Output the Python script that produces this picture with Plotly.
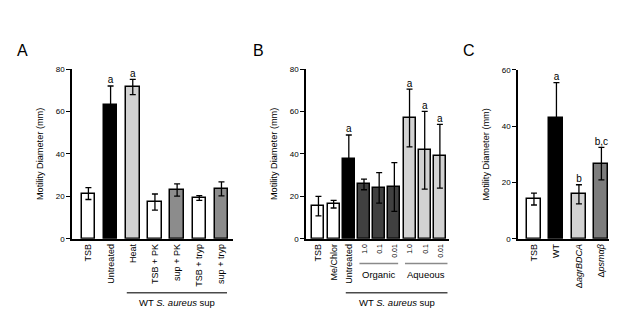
import plotly.graph_objects as go

W, H = 617, 312
OFF = 8  # page body margin in the browser

# ---------------- data ----------------
a_labels = ["TSB", "Untreated", "Heat", "TSB + PK", "sup + PK", "TSB + tryp", "sup + tryp"]
a_means = [21.3, 63.0, 71.5, 17.3, 23.0, 19.2, 23.5]
a_err = [2.8, 9.0, 3.6, 3.8, 2.9, 1.1, 3.3]
a_sig = ["", "a", "a", "", "", "", ""]

b_labels = ["TSB", "Me/Chlor", "Untreated", "1.0", "0.1", "0.01", "1.0", "0.1", "0.01"]
b_means = [15.4, 16.3, 37.7, 25.6, 24.0, 24.4, 56.9, 41.7, 38.9]
b_err = [4.6, 1.8, 11.2, 2.5, 7.2, 11.5, 13.6, 18.3, 15.0]
b_sig = ["", "", "a", "", "", "", "a", "a", "a"]

c_labels = ["TSB", "WT", "Δ<i>agrBDCA</i>", "Δ<i>psmαβ</i>"]
c_means = [14.1, 42.8, 15.8, 26.7]
c_err = [2.1, 12.7, 3.4, 5.8]
c_sig = ["", "a", "b", "b,c"]

# ---------------- styles ----------------
WHITE, BLACK, LIGHT, MID, DARK, CMID = "#ffffff", "#000000", "#d2d2d2", "#8c8c8c", "#404040", "#7d7d7d"
a_colors = [WHITE, BLACK, LIGHT, WHITE, MID, WHITE, MID]
b_colors = [WHITE, WHITE, BLACK, DARK, DARK, DARK, LIGHT, LIGHT, LIGHT]
c_colors = [WHITE, BLACK, LIGHT, CMID]

FONT = "Arial, Liberation Sans, sans-serif"

def px(x):
    return (x - OFF) / W

def py(y):
    return 1 - (y - OFF) / H

fig = go.Figure()

def add_panel(labels, means, errs, sig, colors, xa, ya, width):
    xs = list(range(len(labels)))
    fig.add_trace(go.Bar(
        x=xs, y=means, width=width,
        marker=dict(color=colors, line=dict(color="black", width=1.5)),
        error_y=dict(type="data", array=errs, visible=True, color="black",
                     thickness=1.3, width=3),
        xaxis=xa, yaxis=ya, showlegend=False, hoverinfo="skip"))
    fig.add_trace(go.Scatter(
        x=xs, y=[m + e for m, e in zip(means, errs)], text=sig,
        mode="text", textposition="top center",
        textfont=dict(family=FONT, size=10, color="black"),
        xaxis=xa, yaxis=ya, showlegend=False, hoverinfo="skip", cliponaxis=False))

add_panel(a_labels, a_means, a_err, a_sig, a_colors, "x", "y", 0.61)
add_panel(b_labels, b_means, b_err, b_sig, b_colors, "x2", "y2", 0.79)
add_panel(c_labels, c_means, c_err, c_sig, c_colors, "x3", "y3", 0.62)

ydom = [py(241.5), py(66.7)]
ydomC = [py(241.5), py(67.7)]

def xaxis(dom, rng, labels, size=9):
    return dict(domain=dom, range=rng, tickmode="array",
                tickvals=list(range(len(labels))), ticktext=labels,
                tickangle=-90, showline=True, linecolor="black", linewidth=1.5,
                ticks="", showgrid=False, zeroline=False,
                tickfont=dict(family=FONT, size=size, color="black"))

def yaxis(dom, rng, dtick, xa, standoff):
    return dict(domain=dom, range=rng, dtick=dtick, anchor=xa,
                showline=True, linecolor="black", linewidth=1.5,
                ticks="outside", ticklen=4, tickwidth=1.2, tickcolor="black",
                showgrid=False, zeroline=False,
                tickfont=dict(family=FONT, size=8, color="black"),
                title=dict(text="Motility Diameter (mm)", standoff=standoff,
                           font=dict(family=FONT, size=9.2, color="black")))

b_ticktext = [t if i < 3 else "<span style='font-size:7px'>%s</span>" % t
              for i, t in enumerate(b_labels)]

fig.update_layout(
    width=W, height=H, margin=dict(l=0, r=0, t=0, b=0),
    paper_bgcolor="white", plot_bgcolor="white", bargap=0,
    xaxis=xaxis([px(72), px(233)], [-0.74, 6.52], a_labels),
    yaxis=yaxis(ydom, [0, 80], 20, "x", 11),
    xaxis2=xaxis([px(306), px(449)], [-0.82, 8.6], b_ticktext),
    yaxis2=yaxis(ydom, [0, 80], 20, "x2", 11),
    xaxis3=xaxis([px(518), px(614)], [-0.71, 3.56], c_labels),
    yaxis3=yaxis(ydomC, [0, 60], 20, "x3", 11),
)

shapes = []
annots = []

def bracket(xa, x0, x1, y, text, ty, color):
    shapes.append(dict(type="line", xref=xa, yref="paper", x0=x0, x1=x1,
                       y0=py(y), y1=py(y), line=dict(color=color, width=1.5)))
    annots.append(dict(xref=xa, yref="paper", x=(x0 + x1) / 2, y=py(ty),
                       text=text, showarrow=False, xanchor="center", yanchor="middle",
                       font=dict(family=FONT, size=9.5, color="black")))

wt = "WT <i>S. aureus</i> sup"
bracket("x", 1.73, 6.25, 297, wt, 307, "#4a4a4a")
bracket("x2", 2.7, 5.25, 267, "Organic", 278, "#8a8a8a")
bracket("x2", 5.7, 8.5, 267, "Aqueous", 278, "#8a8a8a")
bracket("x2", 1.8, 8.5, 297, wt, 307, "#4a4a4a")

for letter, x in [("A", 22), ("B", 258), ("C", 469)]:
    annots.append(dict(xref="paper", yref="paper", x=px(x), y=py(48),
                       text=letter, showarrow=False, xanchor="center", yanchor="middle",
                       font=dict(family=FONT, size=16, color="black")))

fig.update_layout(shapes=shapes, annotations=annots)
fig.write_html("out.html")
